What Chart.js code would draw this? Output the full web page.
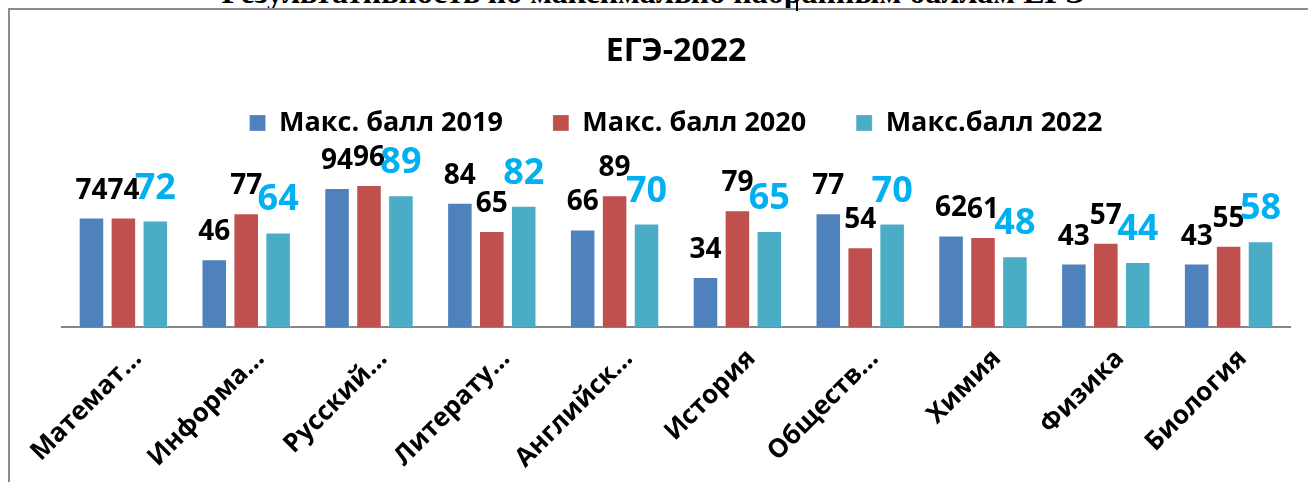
<!DOCTYPE html>
<html>
<head>
<meta charset="utf-8">
<script src="https://cdn.jsdelivr.net/npm/chart.js@4/dist/chart.umd.min.js"></script>
<style>
  html, body { margin: 0; padding: 0; background: #fff; }
  body { width: 1308px; height: 482px; position: relative; overflow: hidden; }
  #heading {
    position: absolute; left: 0; width: 1308px; top: -26px;
    text-align: center; font-family: "Liberation Serif", serif; font-weight: bold;
    font-size: 32px; color: #000; white-space: nowrap;
  }
  #frame {
    position: absolute; left: 8px; top: 8px; width: 1400px; height: 600px;
    border: 2px solid #8c8c8c;
  }
  #cursor { position: absolute; left: 796px; top: 0; width: 2px; height: 11px; background: #000; }
  #wrap { position: absolute; left: 0; top: 0; width: 1308px; height: 482px; }
</style>
</head>
<body>
<div id="heading">Результативность по максимально набранным баллам ЕГЭ</div>
<div id="frame"></div>
<div id="cursor"></div>
<div id="wrap"><canvas id="chart"></canvas></div>
<script>
// Subjects (labels are cut short like in the original)
const subjects = ['Математ…', 'Информа…', 'Русский…', 'Литерату…', 'Английск…',
                  'История', 'Обществ…', 'Химия', 'Физика', 'Биология'];

// Max scores per year
const max2019 = [74, 46, 94, 84, 66, 34, 77, 62, 43, 43];
const max2020 = [74, 77, 96, 65, 89, 79, 54, 61, 57, 55];
const max2022 = [72, 64, 89, 82, 70, 65, 70, 48, 44, 58];

const seriesNames = ['Макс. балл 2019', 'Макс. балл 2020', 'Макс.балл 2022'];
const seriesColors = ['#4f81bd', '#c0504d', '#4bacc6'];

const FONT = '"Open Sans", "Noto Sans", sans-serif';

// Value labels above bars (no datalabels plugin offline, so draw them here)
const barValueLabels = {
  id: 'barValueLabels',
  afterDatasetsDraw(chart) {
    const ctx = chart.ctx;
    ctx.save();
    ctx.textAlign = 'center';
    ctx.textBaseline = 'alphabetic';
    chart.data.datasets.forEach((ds, i) => {
      const meta = chart.getDatasetMeta(i);
      const big = i === 2;
      ctx.font = 'bold ' + (big ? 36 : 28) + 'px ' + FONT;
      ctx.fillStyle = big ? '#00b0f0' : '#000';
      meta.data.forEach((bar, j) => {
        ctx.fillText(String(ds.data[j]), bar.x, bar.y - (big ? 22 : 19));
      });
    });
    ctx.restore();
  }
};

const datasets = [max2019, max2020, max2022].map((vals, i) => ({
  label: seriesNames[i],
  data: vals,
  backgroundColor: seriesColors[i],
  borderColor: 'rgba(255,255,255,0.25)',
  borderWidth: 1,
  categoryPercentage: 0.78,
  barPercentage: 0.8
}));

new Chart(document.getElementById('chart'), {
  type: 'bar',
  data: { labels: subjects, datasets: datasets },
  plugins: [barValueLabels],
  options: {
    responsive: true,
    maintainAspectRatio: false,
    animation: false,
    layout: { padding: { left: 62, right: 18, top: 0, bottom: 0 } },
    plugins: {
      title: {
        display: true,
        text: 'ЕГЭ-2022',
        color: '#000',
        font: { family: FONT, size: 32, weight: 'bold', lineHeight: 1.2 },
        padding: { top: 33, bottom: -12 }
      },
      legend: {
        display: true,
        position: 'top',
        labels: {
          color: '#000',
          boxWidth: 16,
          boxHeight: 16,
          padding: 50,
          font: { family: FONT, size: 27, weight: 'bold' }
        }
      },
      tooltip: { enabled: false }
    },
    scales: {
      x: {
        grid: { display: false },
        border: { display: true, color: '#868686', width: 2 },
        ticks: {
          color: '#000',
          maxRotation: 45,
          minRotation: 45,
          autoSkip: false,
          padding: 8,
          labelOffset: 14,
          font: { family: FONT, size: 26, weight: 'bold' }
        }
      },
      y: {
        display: false,
        min: 0,
        max: 122
      }
    }
  }
});
</script>
</body>
</html>
